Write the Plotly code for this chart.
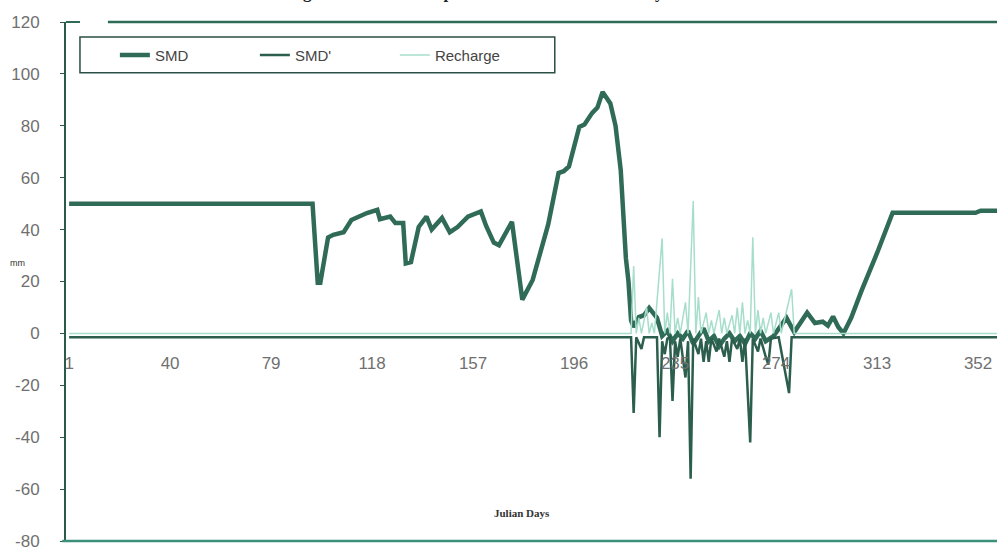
import plotly.graph_objects as go

# ---------------- data ----------------
smd_day = [1, 95, 97, 98, 101, 103, 107, 110, 116, 120, 121, 125, 127, 130, 131, 133, 136, 139,
           141, 145, 148, 151, 155, 160, 162, 165, 167, 172, 176, 180, 186, 190, 192, 194, 198,
           200, 203, 205, 207, 209, 210, 212, 214, 216, 217, 218, 219, 221, 223, 225, 228, 229,
           230, 232, 234, 236, 238, 240, 242, 244, 246, 248, 250, 252, 254, 256, 258, 260, 262,
           264, 266, 268, 270, 273, 276, 278, 281, 286, 289, 292, 294, 296, 298, 300, 303, 307,
           313, 319, 351, 353, 365]
smd_val = [50, 50, 19.5, 19.5, 37, 38, 39, 43.7, 46.4, 47.6, 44, 45, 42.5, 42.5, 27, 27.5, 41, 45,
           40, 44.5, 39, 41, 45, 47, 41.5, 35, 34, 43, 13, 20.6, 42, 61.8, 62.5, 64.3, 79.6,
           80.5, 85, 87, 93, 90, 88.6, 80, 63, 29, 20, 5, 2.5, 6.3, 7, 9.8, 6, 2.5,
           -1, 1, -3, 0, -2, 1, -4, -1, 2, -3, -1, -5, -2, 0, -3, -1, -4,
           0, -2, 1, -3, -1, 3, 6, 0.5, 8, 4, 4.5, 3, 6.5, 2.5, 0, 6, 16.5,
           31, 46.5, 46.5, 47.3, 47.3]

smdp_day = [1, 218, 219, 220, 222, 223, 228, 229, 230, 231, 232, 233, 234, 235, 236, 237, 239, 240,
            241, 242, 244, 245, 246, 247, 248, 249, 251, 252, 254, 255, 256, 257, 259, 260, 261,
            262, 264, 265, 267, 268, 270, 271, 272, 275, 279, 280, 365]
smdp_val = [-1.5, -1.5, -30.7, -1.5, -6, -1.5, -1.5, -40, -3, -8, -2, -1.5, -26, -3, -9, -2, -17, -3,
            -56, -2, -8, -2, -11, -3, -11, -2, -7, -2, -9, -3, -11, -2, -6, -2, -11,
            -2, -42, -2, -7, -2, -9, -12, -2, -1.5, -23, -1.5, -1.5]

rech_day = [1, 218, 219, 220, 221, 222, 224, 225, 226, 227, 230, 231, 232, 233, 234, 235, 236, 237,
            239, 240, 242, 243, 244, 245, 247, 248, 249, 250, 252, 253, 254, 255, 257, 258, 259,
            260, 261, 262, 263, 264, 265, 266, 267, 268, 269, 270, 272, 273, 275, 276, 280, 281, 365]
rech_val = [0, 0, 26, 0, 6, 0, 10, 0, 4, 0, 36.6, 0, 8, 0, 21, 0, 6, 0,
            12, 0, 51, 0, 14, 0, 8, 0, 5, 0, 9, 0, 6, 0, 7, 0, 10,
            0, 12, 0, 5, 0, 37, 0, 9, 0, 6, 0, 8, 0, 8, 0, 17, 0, 0]

x_ticks = [1, 40, 79, 118, 157, 196, 235, 274, 313, 352]
x_ticktext = [str(v) for v in x_ticks]
y_ticks = [-80, -60, -40, -20, 0, 20, 40, 60, 80, 100, 120]
y_ticktext = [str(v) for v in y_ticks]

title_text = "Figure 4.1: SMD components of the soil in the study area"

# ---------------- figure ----------------
fig = go.Figure()
fig.add_trace(go.Scatter(x=smd_day, y=smd_val, mode="lines", name="SMD",
                         line=dict(color="#2f6b57", width=4.5)))
fig.add_trace(go.Scatter(x=smdp_day, y=smdp_val, mode="lines", name="SMD'",
                         line=dict(color="#2c5e4d", width=2.5)))
fig.add_trace(go.Scatter(x=rech_day, y=rech_val, mode="lines", name="Recharge",
                         line=dict(color="#a6decb", width=1.5)))

tick_font = dict(family="Arial, Liberation Sans, sans-serif", size=17, color="#707070")

fig.update_layout(
    width=997, height=550,
    margin=dict(l=66, r=0, t=22, b=9),
    paper_bgcolor="white", plot_bgcolor="white",
    showlegend=True,
    legend=dict(orientation="h", x=0.0525, y=0.936, xanchor="left", yanchor="middle",
                bgcolor="rgba(0,0,0,0)", borderwidth=0,
                entrywidth=95, entrywidthmode="pixels",
                font=dict(family="Arial, Liberation Sans, sans-serif", size=15, color="#444444")),
    xaxis=dict(range=[-0.2, 359.3], tickmode="array", tickvals=x_ticks, ticktext=x_ticktext,
               anchor="free", position=0.4, showline=False, showgrid=False, zeroline=False,
               ticks="", ticklabelstandoff=18, tickfont=tick_font),
    yaxis=dict(range=[-80, 120], tickmode="array", tickvals=y_ticks, ticktext=y_ticktext,
               showline=True, linecolor="#2b5a4a", linewidth=2, ticks="outside", ticklen=4,
               tickcolor="#2b5a4a", showgrid=False, zeroline=False,
               ticklabeloverflow="allow",
               ticklabelstandoff=17, tickfont=tick_font),
    shapes=[
        dict(type="line", xref="paper", yref="paper", x0=0.045, x1=1, y0=1, y1=1,
             line=dict(color="#2e6b57", width=2.5)),
        dict(type="line", xref="paper", yref="paper", x0=0, x1=0.015, y0=1, y1=1,
             line=dict(color="#2e6b57", width=2)),
        dict(type="line", xref="paper", yref="paper", x0=-0.004, x1=1, y0=0, y1=0,
             line=dict(color="#3c8f78", width=2.5)),
        dict(type="rect", xref="paper", yref="paper", x0=0.015, x1=0.525, y0=0.902, y1=0.971,
             line=dict(color="#2b4f44", width=1.5), fillcolor="rgba(0,0,0,0)"),
    ],
    annotations=[
        dict(text="mm", xref="paper", yref="paper", x=-0.0526, y=0.536, xanchor="center",
             showarrow=False,
             font=dict(family="Arial, Liberation Sans, sans-serif", size=9, color="#333333")),
        dict(text="<b>Julian Days</b>", xref="paper", yref="paper", x=0.49, y=0.0385,
             showarrow=False,
             font=dict(family="Liberation Serif, Times New Roman, serif", size=11, color="#333333")),
        dict(text="<b>" + title_text + "</b>", xref="paper", yref="paper", x=0.46, y=1.034,
             xanchor="center", yanchor="bottom", showarrow=False,
             font=dict(family="Liberation Serif, Times New Roman, serif", size=17, color="#222222")),
    ],
)

fig.write_html("out.html")
